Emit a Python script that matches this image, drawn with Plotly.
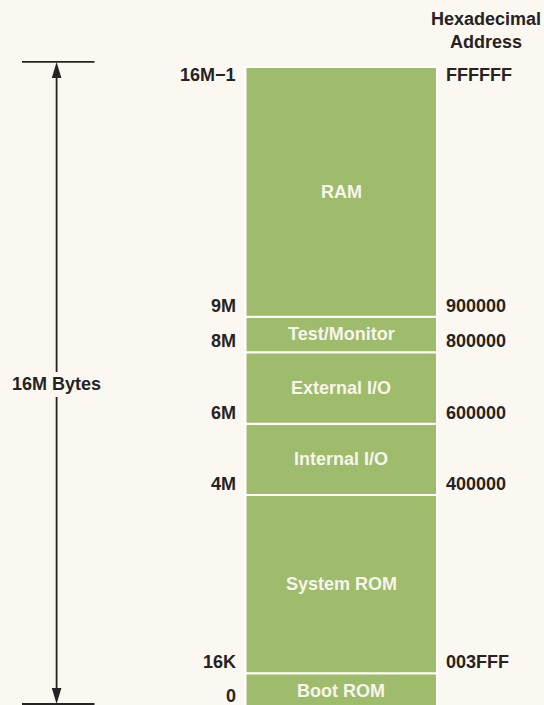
import plotly.graph_objects as go
import numpy as np

# ---- data ----
segments = ["Boot ROM", "System ROM", "Internal I/O", "External I/O", "Test/Monitor", "RAM"]
# schematic (drawn) height of each block in diagram units, bottom to top
drawn_heights = [1, 5, 2, 2, 1, 7]
byte_labels = ["0", "16K", "4M", "6M", "8M", "9M", "16M\u22121"]
hex_labels = ["", "003FFF", "400000", "600000", "800000", "900000", "FFFFFF"]
total_label = "16M Bytes"
hex_header = "Hexadecimal<br>Address"

# ---- style ----
BG = "#FAF8F1"
GREEN = "#9EBC6C"
INK = "#262322"
WHITE_TXT = "#F7F5EC"
FONT = "Liberation Sans, Arial, Helvetica, sans-serif"
FS = 18
PX = 35.67            # pixels per diagram unit
BOTTOM_PX = 709       # pixel row of diagram unit 0
H = 705
W = 544

heights = np.array(drawn_heights, dtype=float)
bases = np.concatenate([[0], np.cumsum(heights)[:-1]])
bounds = np.concatenate([[0], np.cumsum(heights)])
total = bounds[-1]

BOX_X = 341.25
BOX_W = 191.5

fig = go.Figure()
fig.add_trace(go.Bar(
    x=[BOX_X] * len(segments), y=heights, base=bases, width=BOX_W,
    marker=dict(color=GREEN, line=dict(color="#FFFFFF", width=2)),
    hoverinfo="skip", showlegend=False,
))

ann = []
# segment names
for name, b, h in zip(segments, bases, heights):
    ann.append(dict(x=BOX_X, y=b + h / 2, text=name, showarrow=False,
                    font=dict(family=FONT, size=FS, color=WHITE_TXT, weight="bold"),
                    xanchor="center", yanchor="middle"))

left_edge = BOX_X - BOX_W / 2 + 1
right_edge = BOX_X + BOX_W / 2 - 1
n = len(bounds)
for i, (yb, bl, hl) in enumerate(zip(bounds, byte_labels, hex_labels)):
    if i == n - 1:
        ys = -8
    elif i == 0:
        # the lowest address sits at the very bottom edge (off the visible axis range);
        # anchor it to the middle of the bottom block instead
        yb = bases[0] + heights[0] / 2
        ys = -5
    else:
        ys = 11
    ann.append(dict(x=left_edge, y=yb, text=bl, showarrow=False, xshift=-9, yshift=ys,
                    font=dict(family=FONT, size=FS, color=INK, weight="bold"),
                    xanchor="right", yanchor="middle"))
    if hl:
        ann.append(dict(x=right_edge, y=yb, text=hl, showarrow=False, xshift=8, yshift=ys,
                        font=dict(family=FONT, size=FS, color=INK, weight="bold"),
                        xanchor="left", yanchor="middle"))

# header
ann.append(dict(x=486, y=1 - 30.5 / H, yref="paper", text=hex_header, showarrow=False,
                font=dict(family=FONT, size=FS, color=INK, weight="bold"),
                xanchor="center", yanchor="middle", align="center"))

# dimension label
ARROW_X = 56.6
ann.append(dict(x=ARROW_X, y=total / 2, text=total_label, showarrow=False, yshift=4,
                font=dict(family=FONT, size=FS, color=INK, weight="bold"),
                xanchor="center", yanchor="middle"))

shapes = []
LINE = dict(color=INK, width=1.8)
# end ticks
for yb in (total, 0):
    shapes.append(dict(type="line", xref="x", x0=22, x1=94.5,
                       yref="y", ysizemode="pixel", yanchor=yb, y0=5, y1=5,
                       line=LINE))
# vertical shaft (broken around text)
shapes.append(dict(type="line", xref="x", x0=ARROW_X, x1=ARROW_X,
                   yref="y", ysizemode="pixel", yanchor=total, y0=-8, y1=-305,
                   line=LINE))
shapes.append(dict(type="line", xref="x", x0=ARROW_X, x1=ARROW_X,
                   yref="y", ysizemode="pixel", yanchor=0, y0=10, y1=312,
                   line=LINE))
# arrowheads
shapes.append(dict(type="path", xref="x", xsizemode="pixel", xanchor=ARROW_X,
                   yref="y", ysizemode="pixel", yanchor=total,
                   path="M 0 5 L -4.8 -11 L 4.8 -11 Z",
                   fillcolor=INK, line=dict(width=0)))
shapes.append(dict(type="path", xref="x", xsizemode="pixel", xanchor=ARROW_X,
                   yref="y", ysizemode="pixel", yanchor=0,
                   path="M 0 5 L -4.8 21 L 4.8 21 Z",
                   fillcolor=INK, line=dict(width=0)))

fig.update_layout(
    width=W, height=H,
    margin=dict(l=0, r=0, t=0, b=0),
    paper_bgcolor=BG, plot_bgcolor=BG,
    barmode="overlay",
    xaxis=dict(range=[0, W], visible=False, fixedrange=True),
    yaxis=dict(range=[(BOTTOM_PX - H) / PX, BOTTOM_PX / PX], visible=False, fixedrange=True),
    annotations=ann, shapes=shapes,
    showlegend=False,
)

fig.write_html(
    "out.html",
    config={"displayModeBar": False},
    post_script="document.body.style.margin='0';document.body.style.background='%s';" % BG,
)
